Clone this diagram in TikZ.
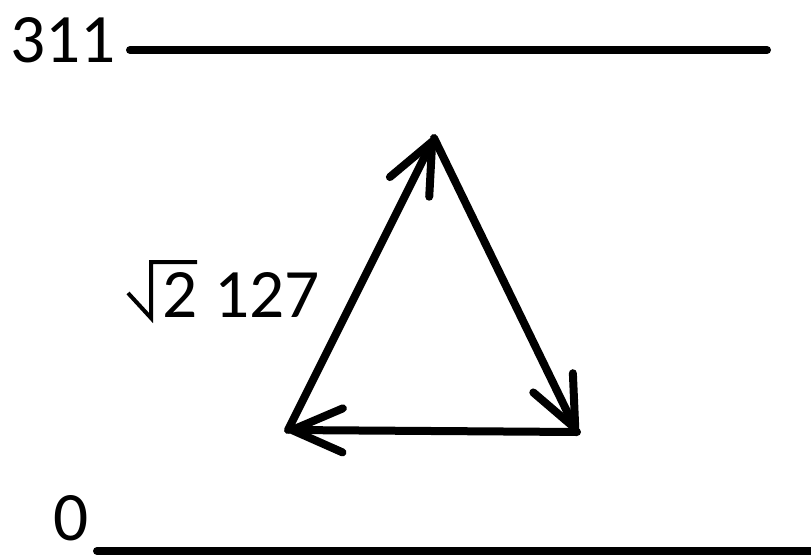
\documentclass[tikz,border=0pt]{standalone}
\usepackage{fontspec}
\setmainfont{Carlito}
\usetikzlibrary{arrows.meta}
\begin{document}
\begin{tikzpicture}[x=0.75pt,y=-0.75pt,
  thick line/.style={line width=6pt,line cap=round},
  arr/.style={thick line,-{Straight Barb[length=38pt,width=33pt,round]}},
  radical/.style={line width=3pt,line cap=butt,line join=miter},
  lbl/.style={font=\fontsize{52}{60}\selectfont,inner sep=0pt,anchor=base west}]
\path[use as bounding box] (0,0) rectangle (811,558);
% levels
\node[lbl] (top) at (10,62) {311};
\coordinate (tl) at (130,50);
\coordinate (tr) at (767,50);
\draw[thick line] (tl) -- (tr);
\node[lbl] (zero) at (53,540) {0};
\coordinate (bl0) at (97,551);
\coordinate (br0) at (815,551);
\draw[thick line] (bl0) -- (br0);
% triangle
\coordinate (A) at (434,138);
\coordinate (B) at (288,430);
\coordinate (C) at (577,432);
\draw[arr] (B) -- (A);
\draw[arr] (A) -- (C);
\draw[arr] (C) -- (B);
% label sqrt(2) 127
\node[lbl] (two) at (162,317) {2};
\node[lbl] (num) at (214,317) {127};
\coordinate (r1) at (128,293);
\coordinate (r2) at (151,318);
\coordinate (r3) at (151,262);
\coordinate (r4) at (197,262);
\draw[radical] (r1) -- (r2) -- (r3) -- (r4);
\end{tikzpicture}
\end{document}
